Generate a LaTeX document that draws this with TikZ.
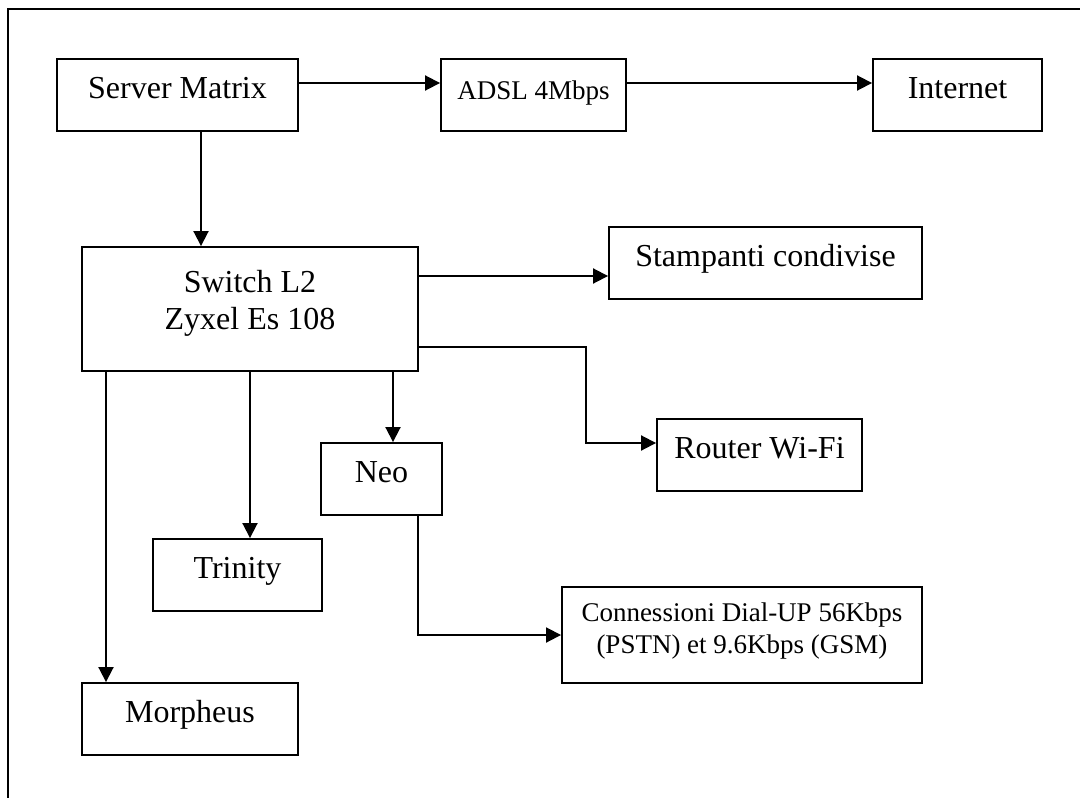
\documentclass[tikz,border=0pt]{standalone}
\usepackage{fontspec}
\setmainfont{Liberation Serif}
\usetikzlibrary{arrows.meta}

\tikzset{
  box/.style={draw, line width=1.9pt, inner sep=0pt, align=center,
    font=\fontsize{32}{37}\selectfont, text height=22pt, text depth=15pt},
  twoline/.style={inner sep=0pt, align=center},
  link/.style={line width=1.9pt, -{Triangle[length=15pt,width=15pt]}}
}

\begin{document}
\begin{tikzpicture}[x=1pt, y=-1pt]
  \useasboundingbox (0,0) rectangle (1080,798);

  % page frame (only its top and left edges fall inside)
  \draw[line width=1.4pt] (8,800) -- (8,9) -- (1082,9);

  % boxes: centre, width, height
  \node[box, minimum width=241pt, minimum height=72pt] (server)   at (177.5,95)  {Server Matrix};
  \node[box, minimum width=185pt, minimum height=72pt,
        font=\fontsize{27}{32}\selectfont, text height=19pt, text depth=11pt] (adsl) at (533.5,95) {ADSL 4Mbps};
  \node[box, minimum width=169pt, minimum height=72pt] (internet) at (957.5,95)  {Internet};
  \node[box, minimum width=336pt, minimum height=124pt, text height=, text depth=] (switch) at (250,309) {};
  \node[twoline, font=\fontsize{32}{37}\selectfont] (switchtext) at ([yshift=6pt]switch.center) {Switch L2\\Zyxel Es 108};
  \node[box, minimum width=313pt, minimum height=72pt] (stamp)    at (765.5,263) {Stampanti condivise};
  \node[box, minimum width=205pt, minimum height=72pt] (router)   at (759.5,455) {Router Wi-Fi};
  \node[box, minimum width=121pt, minimum height=72pt] (neo)      at (381.5,479) {Neo};
  \node[box, minimum width=169pt, minimum height=72pt] (trinity)  at (237.5,575) {Trinity};
  \node[box, minimum width=216pt, minimum height=72pt] (morpheus) at (190,719)   {Morpheus};
  \node[box, minimum width=360pt, minimum height=96pt, text height=, text depth=] (dial) at (742,635) {};
  \node[twoline, font=\fontsize{27}{32}\selectfont] (dialtext) at ([yshift=4pt]dial.center) {Connessioni Dial-UP 56Kbps\\(PSTN) et 9.6Kbps (GSM)};

  % connectors
  \draw[link] ([yshift=12pt]server.east) -- ([yshift=12pt]adsl.west);
  \draw[link] ([yshift=12pt]adsl.east) -- ([yshift=12pt]internet.west);
  \draw[link] ([xshift=23.5pt]server.south) -- ([xshift=23.5pt]server.south |- switch.north);
  \draw[link] ([yshift=-13pt]stamp.west -| switch.east) -- ([yshift=-13pt]stamp.west);
  \coordinate (bend) at (586,347);
  \draw[link] (switch.east |- bend) -- (bend) |- ([yshift=12pt]router.west);
  \draw[link] ([xshift=11.5pt]neo.north |- switch.south) -- ([xshift=11.5pt]neo.north);
  \draw[link] ([xshift=12.5pt]trinity.north |- switch.south) -- ([xshift=12.5pt]trinity.north);
  \draw[link] ([xshift=-84pt]morpheus.north |- switch.south) -- ([xshift=-84pt]morpheus.north);
  \draw[link] ([xshift=36.5pt]neo.south) |- (dial.west);
\end{tikzpicture}
\end{document}
